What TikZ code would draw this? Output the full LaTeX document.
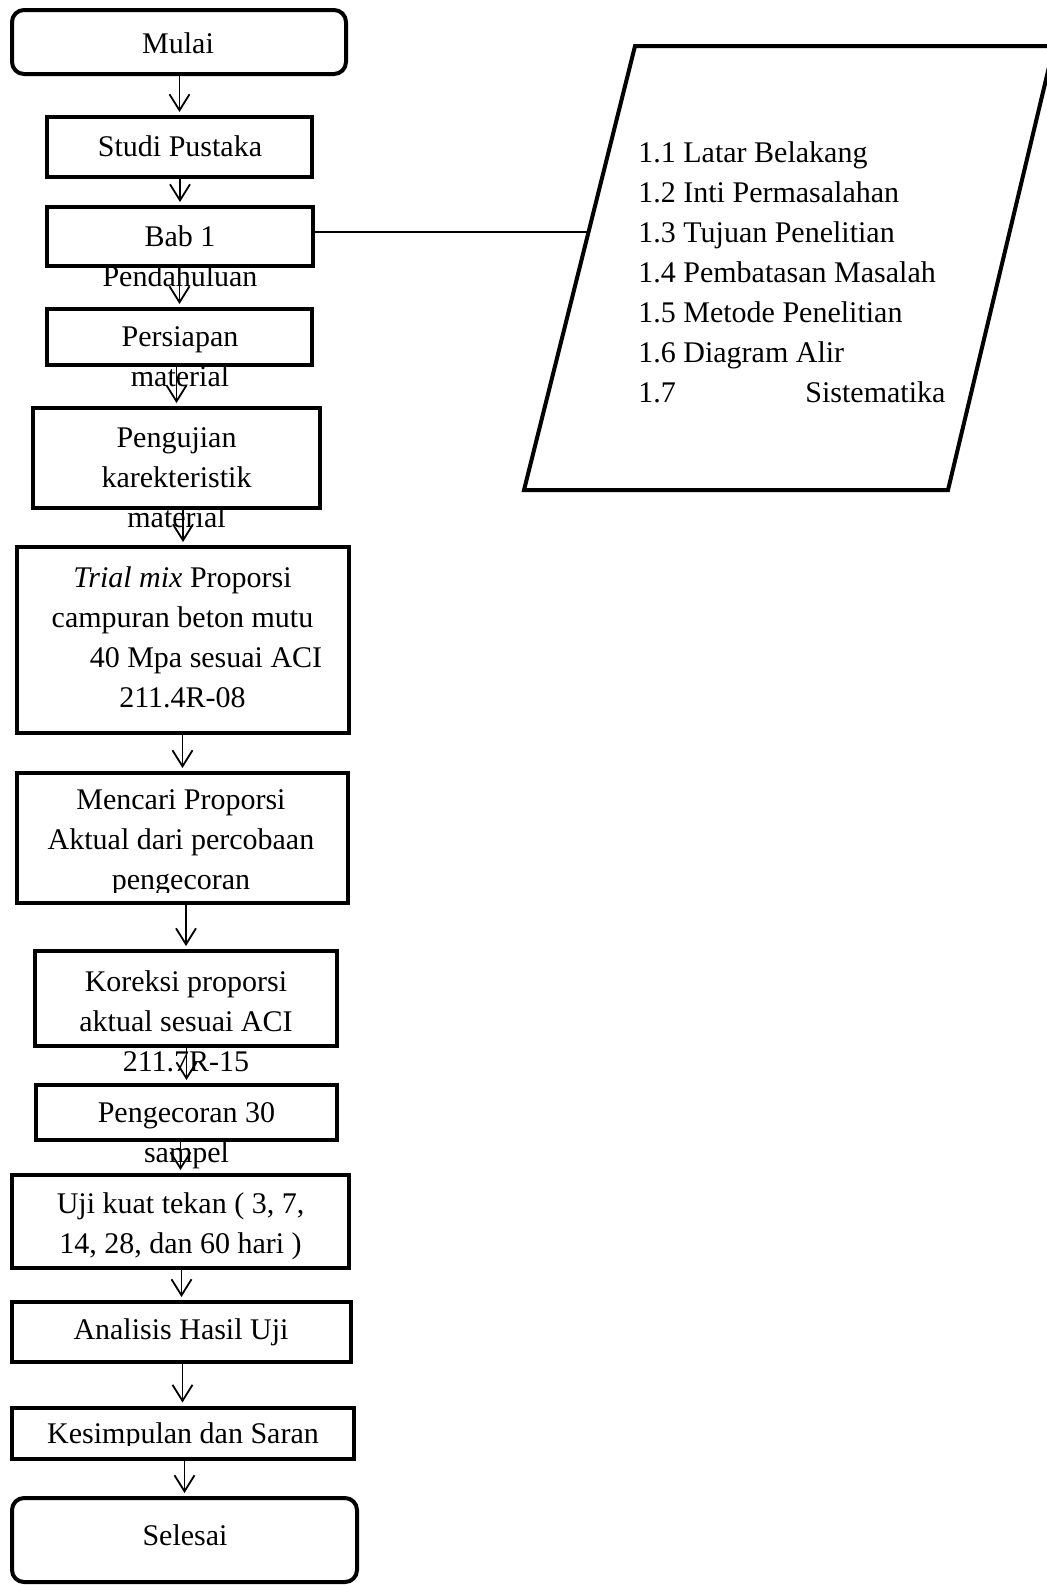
\documentclass[tikz,border=0pt]{standalone}
\usepackage{fontspec}
\setmainfont{Liberation Serif}
\usepackage{tikz}
\usetikzlibrary{positioning, arrows.meta}

\tikzset{
  box/.style={draw, line width=2pt, inner sep=0pt},
  startstop/.style={box, rounded corners=6pt},
  txt/.style={align=center, inner sep=0pt, font=\fontsize{15pt}{20pt}\selectfont},
  flow/.style={-{Straight Barb[length=8pt,width=10pt]}, line width=0.9pt, shorten >=1.5pt},
}

\begin{document}
\begin{tikzpicture}[x=0.5pt, y=-0.5pt]
  \clip (0,0) rectangle (1047,1585);

  % boxes of the main flow
  \node[startstop, minimum width=167pt, minimum height=32pt] (mulai) at (179,42) {};
  \node[box, minimum width=132.5pt, minimum height=30pt] (studi) at (179.5,147) {};
  \node[box, minimum width=133pt, minimum height=29.5pt] (bab) at (180,236.5) {};
  \node[box, minimum width=132.5pt, minimum height=28pt] (persiapan) at (179.5,337) {};
  \node[box, minimum width=143.5pt, minimum height=50pt] (pengujian) at (176.5,458) {};
  \node[box, minimum width=166pt, minimum height=93pt] (trial) at (183,640) {};
  \node[box, minimum width=165.5pt, minimum height=65pt] (mencari) at (182.5,838) {};
  \node[box, minimum width=151pt, minimum height=47.5pt] (koreksi) at (186,998.5) {};
  \node[box, minimum width=150.5pt, minimum height=27.5pt] (pengecoran) at (186.5,1112.5) {};
  \node[box, minimum width=168.5pt, minimum height=46.5pt] (uji) at (180.5,1221.5) {};
  \node[box, minimum width=169.5pt, minimum height=30pt] (analisis) at (181.5,1332) {};
  \node[box, minimum width=171pt, minimum height=25.5pt] (kesimpulan) at (182.5,1433) {};
  \node[startstop, minimum width=172.5pt, minimum height=42pt] (selesai) at (184.5,1540) {};

  % texts
  \node[txt] (mulai-t) at (178,43) {Mulai};
  \node[txt] (studi-t) at (180,146) {Studi Pustaka};
  \node[txt] (bab-t) at (180,256.5) {Bab 1\\Pendahuluan};
  \node[txt] (persiapan-t) at (180,357) {Persiapan\\material};
  \node[txt] (pengujian-t) at (176.5,478) {Pengujian\\karekteristik\\material};
  \node[txt] (trial-t) at (182.5,637) {\textit{Trial mix} Proporsi\\campuran beton mutu\\\hspace*{23.5pt}40 Mpa sesuai ACI\\211.4R-08};
  \begin{scope}
    \clip (17,773) rectangle (348,892);
    \node[txt] (mencari-t) at (181,842.5) {Mencari Proporsi\\Aktual dari percobaan\\pengecoran};
  \end{scope}
  \node[txt] (koreksi-t) at (186,1021) {Koreksi proporsi\\aktual sesuai ACI\\211.7R-15};
  \node[txt] (pengecoran-t) at (186.5,1135.5) {Pengecoran 30\\sampel};
  \node[txt] (uji-t) at (180.5,1226.5) {Uji kuat tekan ( 3, 7,\\14, 28, dan 60 hari )};
  \node[txt] (analisis-t) at (181,1332) {Analisis Hasil Uji};
  \begin{scope}
    \clip (12,1408) rectangle (353,1445);
    \node[txt] (kesimpulan-t) at (183,1436) {Kesimpulan dan Saran};
  \end{scope}
  \node[txt] (selesai-t) at (185,1535) {Selesai};

  % flow arrows
  \foreach \a/\b in {mulai/studi, studi/bab, bab/persiapan, persiapan/pengujian,
      pengujian/trial, trial/mencari, mencari/koreksi, koreksi/pengecoran,
      pengecoran/uji, uji/analisis, analisis/kesimpulan, kesimpulan/selesai} {
    \draw[flow] (\b.north |- \a.south) -- (\b.north);
  }

  % contents of chapter 1
  \draw[line width=2pt] (524,490) -- (635,46) -- (1054,46) -- (948,490) -- cycle;
  \node[txt, align=left, anchor=west] (subbab) at (638,272)
    {1.1 Latar Belakang\\1.2 Inti Permasalahan\\1.3 Tujuan Penelitian\\1.4 Pembatasan Masalah\\1.5 Metode Penelitian\\1.6 Diagram Alir\\\makebox[153.5pt][l]{1.7\hfill Sistematika}};
  \coordinate (link) at (587,232);
  \draw[line width=0.75pt] (bab.east |- link) -- (link);
\end{tikzpicture}
\end{document}
